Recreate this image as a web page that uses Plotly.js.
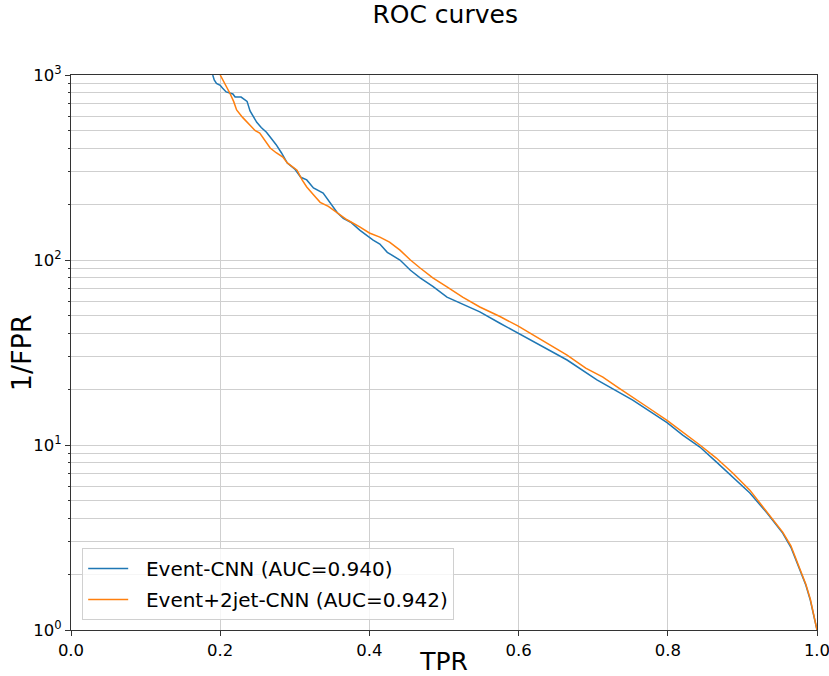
<!DOCTYPE html>
<html>
<head>
<meta charset="utf-8">
<script src="https://cdn.plot.ly/plotly-3.0.1.min.js"></script>
<style>html,body{margin:0;padding:0;background:#fff;}#chart{width:829px;height:676px;}</style>
</head>
<body>
<div id="chart"></div>
<script>
// Event-CNN (AUC=0.940)
const tprA = [0.190,0.192,0.195,0.200,0.203,0.208,0.217,0.220,0.228,0.236,0.240,0.245,0.249,0.255,0.262,0.267,0.275,0.282,0.290,0.300,0.308,0.316,0.325,0.338,0.345,0.357,0.365,0.375,0.387,0.400,0.405,0.414,0.424,0.441,0.455,0.468,0.485,0.504,0.520,0.548,0.575,0.599,0.630,0.665,0.705,0.730,0.753,0.775,0.799,0.820,0.843,0.865,0.887,0.910,0.933,0.954,0.965,0.977,0.985,0.991,0.996,1.000];
const invA = [1000,940,900,880,850,810,790,760,760,720,640,590,555,520,490,462,420,380,334,310,280,271,245,230,210,180,168,160,145,133,128,122,110,100,88,80,72,63,59,52.4,45.5,40.3,34.5,28.8,22.5,19.8,17.5,15.3,13.2,11.3,9.75,8.1,6.7,5.5,4.29,3.34,2.8,2.11,1.75,1.45,1.2,1.0];
// Event+2jet-CNN (AUC=0.942)
const tprB = [0.200,0.205,0.210,0.213,0.218,0.222,0.230,0.240,0.247,0.253,0.260,0.267,0.275,0.284,0.290,0.303,0.310,0.316,0.325,0.334,0.345,0.357,0.370,0.387,0.400,0.414,0.427,0.441,0.455,0.468,0.485,0.504,0.525,0.548,0.575,0.599,0.630,0.665,0.690,0.713,0.733,0.753,0.775,0.799,0.820,0.843,0.865,0.887,0.910,0.933,0.954,0.965,0.977,0.985,0.991,0.996,1.000];
const invB = [1000,920,840,797,720,647,590,535,500,486,440,403,380,360,335,306,270,248,225,205,195,180,165,151,140,133,125,113,100,90.5,80,71.5,63,55.7,49.5,44,37,30.6,26,23.3,20.5,18.2,15.8,13.6,11.8,10,8.5,7.06,5.7,4.35,3.38,2.85,2.15,1.77,1.47,1.2,1.0];

const seriesNames = ["Event-CNN (AUC=0.940)", "Event+2jet-CNN (AUC=0.942)"];
const xTickVals = [0, 0.2, 0.4, 0.6, 0.8, 1.0];
const xTickText = ["0.0", "0.2", "0.4", "0.6", "0.8", "1.0"];
const yTickVals = [1, 10, 100, 1000];
const yTickText = ["10<sup>0</sup>", "10<sup>1</sup>", "10<sup>2</sup>", "10<sup>3</sup>"];
const yMinorVals = [2,3,4,5,6,7,8,9,20,30,40,50,60,70,80,90,200,300,400,500,600,700,800,900];
const yTitle = "1/FPR";

const font = "DejaVu Sans, sans-serif";
const pad = "\u00a0\u00a0";
const traces = [
  {x: tprA, y: invA, type: "scatter", mode: "lines", name: pad + seriesNames[0], legendgroup: "a", line: {color: "#1f77b4", width: 1.5}},
  {x: tprB, y: invB, type: "scatter", mode: "lines", name: pad + seriesNames[1], legendgroup: "b", line: {color: "#ff7f0e", width: 1.5}}
];
const layout = {
  width: 829, height: 676,
  margin: {l: 71, r: 12, t: 75, b: 46},
  paper_bgcolor: "#fff", plot_bgcolor: "#fff",
  font: {family: font, color: "#000"},
  title: {text: "ROC curves", x: 0.537, xanchor: "center", y: 0.979, yanchor: "middle", font: {size: 25, family: font, color: "#000"}},
  xaxis: {
    range: [0, 1], tickvals: xTickVals, ticktext: xTickText,
    showgrid: true, gridcolor: "#cfcfcf", gridwidth: 1,
    showline: true, linecolor: "#333", linewidth: 1, mirror: true,
    ticks: "outside", ticklen: 5, tickcolor: "#333",
    tickfont: {size: 16.5, family: font, color: "#000"},
    ticklabeloverflow: "allow",
    zeroline: false,
    title: {text: "TPR", font: {size: 25, family: font, color: "#000"}, standoff: 2},
    automargin: false
  },
  yaxis: {
    type: "log", range: [0, 3], tickvals: yTickVals, ticktext: yTickText,
    showgrid: true, gridcolor: "#cfcfcf", gridwidth: 1,
    minor: {tickvals: yMinorVals, showgrid: true, gridcolor: "#cfcfcf", gridwidth: 1, ticks: "outside", ticklen: 2.5, tickcolor: "#333"},
    showline: true, linecolor: "#333", linewidth: 1, mirror: true,
    ticks: "outside", ticklen: 5, tickcolor: "#333",
    tickfont: {size: 16.5, family: font, color: "#000"},
    ticklabeloverflow: "allow",
    zeroline: false,
    automargin: false
  },
  annotations: [{
    text: yTitle, textangle: -90, xref: "paper", yref: "paper",
    x: -0.066, y: 0.5, xanchor: "center", yanchor: "middle", showarrow: false,
    font: {size: 27, family: font, color: "#000"}
  }],
  showlegend: true,
  legend: {
    x: 0.015, y: 0.018, xanchor: "left", yanchor: "bottom",
    bgcolor: "rgba(255,255,255,0.8)", bordercolor: "#d0d0d0", borderwidth: 1,
    font: {size: 20, family: font, color: "#000"},
    itemwidth: 40, tracegroupgap: 2
  }
};
Plotly.newPlot("chart", traces, layout, {displayModeBar: false, staticPlot: true});
</script>
</body>
</html>
